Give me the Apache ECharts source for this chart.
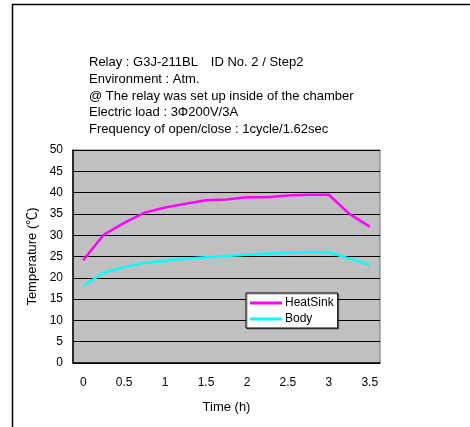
<!DOCTYPE html>
<html>
<head>
<meta charset="utf-8">
<script src="https://cdn.jsdelivr.net/npm/echarts@6/dist/echarts.min.js"></script>
<style>
html,body{margin:0;padding:0;background:#fff;}
#main{width:470px;height:427px;}
</style>
</head>
<body>
<div id="main"></div>
<script>
// time (h), every 15 min
var times=['0','0.25','0.5','0.75','1','1.25','1.5','1.75','2','2.25','2.5','2.75','3','3.25','3.5'];
var heatSink=[24.1,30.1,32.9,35.3,36.5,37.4,38.2,38.4,38.9,38.9,39.3,39.5,39.5,35.0,32.0];
var body=[18.2,21.2,22.5,23.5,24.0,24.5,24.8,25.1,25.4,25.7,25.9,26.0,26.0,24.5,23.0];
var infoLines=[
	'Relay : G3J-211BL\u3000ID No. 2 / Step2',
	'Environment : Atm.',
	'@ The relay was set up inside of the chamber',
	'Electric load : 3\u03A6200V/3A',
	'Frequency of open/close : 1cycle/1.62sec'
];

var font='"Liberation Sans", "Noto Sans CJK JP", sans-serif';

var texts=[];
for(var i=0;i<infoLines.length;i++){
	texts.push({
		type:'text',
		left:89,
		top:56+i*16.8,
		style:{text:infoLines[i],font:'13px '+font,fill:'#000'}
	});
}
// outer frame
texts.push({
	type:'rect',
	shape:{x:12.5,y:4.5,width:600,height:600},
	style:{fill:null,stroke:'#000',lineWidth:1.5},
	silent:true
});

var myChart=echarts.init(document.getElementById('main'));
var option={
	animation:false,
	textStyle:{fontFamily:font},
	graphic:texts,
	grid:{
		left:73,top:150,width:307,height:213,
		show:true,
		backgroundColor:'#c0c0c0',
		borderColor:'#707070',
		borderWidth:1
	},
	legend:{
		left:246,top:293,
		orient:'vertical',
		backgroundColor:'#fff',
		borderColor:'#000',
		borderWidth:1,
		padding:[4,4,3,4],
		itemGap:4,
		itemWidth:32,
		itemHeight:3,
		icon:'rect',
		textStyle:{fontSize:12,color:'#000',padding:[0,0,0,-2]},
		shadowColor:'rgba(0,0,0,0.4)',
		shadowOffsetX:1,
		shadowOffsetY:1,
		data:['HeatSink','Body']
	},
	xAxis:{
		type:'category',
		data:times,
		boundaryGap:true,
		name:'Time (h)',
		nameLocation:'middle',
		nameGap:38,
		nameTextStyle:{fontSize:13,color:'#000'},
		axisLine:{lineStyle:{color:'#000',width:1.5}},
		axisTick:{inside:true,length:4,interval:0,lineStyle:{color:'#000'}},
		axisLabel:{interval:1,margin:14,fontSize:12,color:'#000'},
		splitLine:{show:false}
	},
	yAxis:{
		type:'value',
		min:0,max:50,interval:5,
		name:'Temperature (\u2103)',
		nameLocation:'middle',
		nameGap:32,
		nameTextStyle:{fontSize:13,color:'#000'},
		axisLine:{show:true,lineStyle:{color:'#000',width:1.5}},
		axisTick:{show:false},
		axisLabel:{margin:10,fontSize:12,color:'#000'},
		splitLine:{lineStyle:{color:'#000',width:1}}
	},
	series:[
		{
			name:'HeatSink',
			type:'line',
			data:heatSink,
			symbol:'none',
			lineStyle:{color:'#ff00ff',width:2.5},
			itemStyle:{color:'#ff00ff'}
		},
		{
			name:'Body',
			type:'line',
			data:body,
			symbol:'none',
			lineStyle:{color:'#00ffff',width:2.5},
			itemStyle:{color:'#00ffff'}
		}
	]
};
myChart.setOption(option);
</script>
</body>
</html>
